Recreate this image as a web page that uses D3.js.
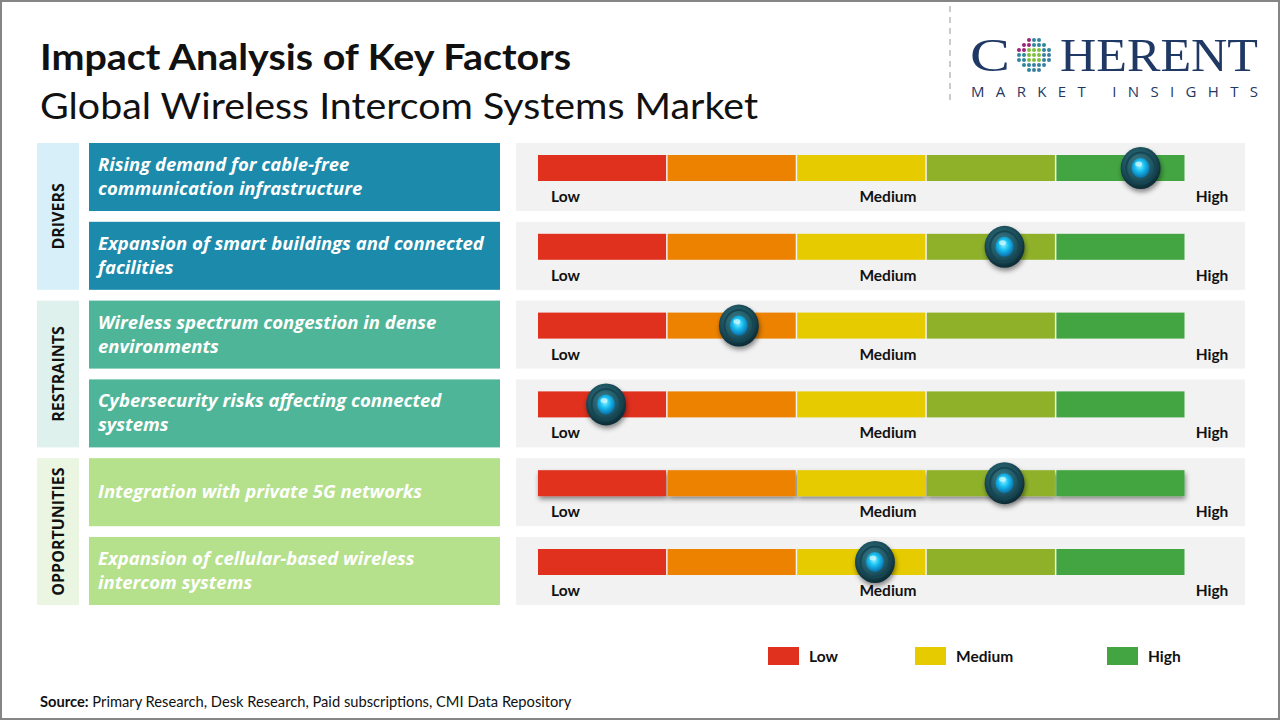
<!DOCTYPE html>
<html><head><meta charset="utf-8">
<script src="https://cdn.jsdelivr.net/npm/d3@7"></script>
<style>body{margin:0;background:#fff}svg{display:block}</style>
</head><body>
<svg id="c" width="1280" height="720"></svg>
<script>
const groups = ["DRIVERS","RESTRAINTS","OPPORTUNITIES"];
const factors = [
  "Rising demand for cable-free|communication infrastructure",
  "Expansion of smart buildings and connected|facilities",
  "Wireless spectrum congestion in dense|environments",
  "Cybersecurity risks affecting connected|systems",
  "Integration with private 5G networks",
  "Expansion of cellular-based wireless|intercom systems"
];
const factorGroup = ["DRIVERS","DRIVERS","RESTRAINTS","RESTRAINTS","OPPORTUNITIES","OPPORTUNITIES"];
const impact = [93, 72, 31, 10.5, 72, 52];
const levels = ["L1","L2","L3","L4","L5"];
const scaleLabels = ["Low","Medium","High"];
const legendItems = ["Low","Medium","High"];

const svg = d3.select("#c");
const font = "'Open Sans', sans-serif";
const titleFont = "Lato, sans-serif";

svg.append("rect").attr("x",1).attr("y",1).attr("width",1278).attr("height",718)
  .attr("fill","#fff").attr("stroke","#858585").attr("stroke-width",2);

// defs
const defs = svg.append("defs");
const knobG = defs.append("radialGradient").attr("id","knobOuter").attr("cx","45%").attr("cy","40%").attr("r","60%");
knobG.append("stop").attr("offset","0%").attr("stop-color","#3d7f8c");
knobG.append("stop").attr("offset","60%").attr("stop-color","#1f5562");
knobG.append("stop").attr("offset","100%").attr("stop-color","#0b2a33");
const coreG = defs.append("radialGradient").attr("id","knobCore").attr("cx","45%").attr("cy","40%").attr("r","60%");
coreG.append("stop").attr("offset","0%").attr("stop-color","#8ff0ff");
coreG.append("stop").attr("offset","45%").attr("stop-color","#19c0f2");
coreG.append("stop").attr("offset","100%").attr("stop-color","#0a6fa8");
const sh = defs.append("filter").attr("id","shadow").attr("x","-50%").attr("y","-50%").attr("width","200%").attr("height","200%");
sh.append("feDropShadow").attr("dx",1).attr("dy",3).attr("stdDeviation",2.5).attr("flood-color","#000").attr("flood-opacity",0.45);

// Titles
svg.append("text").attr("x",40).attr("y",70).attr("font-family",titleFont).attr("font-weight","bold")
  .attr("font-size",37).attr("fill","#111").attr("textLength",531).attr("lengthAdjust","spacingAndGlyphs")
  .text("Impact Analysis of Key Factors");
svg.append("text").attr("x",40).attr("y",119).attr("font-family",titleFont)
  .attr("font-size",37).attr("fill","#111").attr("textLength",718).attr("lengthAdjust","spacingAndGlyphs")
  .text("Global Wireless Intercom Systems Market");

// Logo
svg.append("line").attr("x1",950).attr("x2",950).attr("y1",6).attr("y2",100)
  .attr("stroke","#bbb").attr("stroke-width",1.5).attr("stroke-dasharray","6,5");
svg.append("text").attr("x",970).attr("y",71).attr("font-family","'Liberation Serif', serif")
  .attr("font-size",47).attr("fill","#1f3864").attr("textLength",40).attr("lengthAdjust","spacingAndGlyphs").text("C");
svg.append("text").attr("x",1060).attr("y",71).attr("font-family","'Liberation Serif', serif")
  .attr("font-size",47).attr("fill","#1f3864").attr("textLength",198).attr("lengthAdjust","spacingAndGlyphs").text("HERENT");
const logoDots = [];
for (let r=-3;r<=3;r++) for (let c=-3;c<=3;c++){ if (r*r+c*c<=10) logoDots.push([r,c]); }
svg.append("g").selectAll("circle").data(logoDots).join("circle")
  .attr("cx",d=>1034+d[1]*5).attr("cy",d=>55+d[0]*5).attr("r",2)
  .attr("fill",d=> (Math.abs(d[0])<=1 && Math.abs(d[1])<=1) ? "#7fbf3f" : (d[0]<0 ? (d[1]<0?"#a0207a":"#2e86a0") : (d[1]<0?"#2e86a0":"#3a7fa0")));
svg.append("text").attr("x",971).attr("y",97).attr("font-family","'Open Sans', sans-serif")
  .attr("font-size",15).attr("fill","#1f3864").attr("textLength",287).attr("lengthAdjust","spacing")
  .text("MARKET INSIGHTS");

// Row scale
const y = d3.scaleBand().domain(d3.range(factors.length)).range([143,605]).paddingInner(0.137);
const bh = y.bandwidth();
const groupColor = {DRIVERS:"#1b8aab", RESTRAINTS:"#4fb598", OPPORTUNITIES:"#b5e08c"};
const groupBg = {DRIVERS:"#d6eff9", RESTRAINTS:"#dff1ec", OPPORTUNITIES:"#eaf6e2"};

// Group side boxes
groups.forEach(g=>{
  const idx = factors.map((_,i)=>i).filter(i=>factorGroup[i]===g);
  const y0 = y(idx[0]), y1 = y(idx[idx.length-1])+bh;
  svg.append("rect").attr("x",37).attr("y",y0).attr("width",42).attr("height",y1-y0).attr("fill",groupBg[g]);
  svg.append("text").attr("transform",`translate(64,${(y0+y1)/2}) rotate(-90)`).attr("text-anchor","middle")
    .attr("font-family",font).attr("font-weight","bold").attr("font-size",16).attr("fill","#111").text(g);
});

// Factor boxes
const rows = svg.append("g").selectAll("g").data(factors).join("g").attr("transform",(d,i)=>`translate(0,${y(i)})`);
rows.append("rect").attr("x",89).attr("width",411).attr("height",bh).attr("fill",(d,i)=>groupColor[factorGroup[i]]);
rows.each(function(d,i){
  const lines = d.split("|");
  const t = d3.select(this).append("text").attr("font-family",font).attr("font-weight","bold").attr("font-style","italic")
    .attr("font-size",18.5).attr("fill","#fff");
  const start = lines.length===1 ? 40 : 28;
  lines.forEach((l,k)=> t.append("tspan").attr("x",98).attr("y",start+k*24).text(l));
});

// Impact panels
const x = d3.scaleLinear().domain([0,100]).range([538,1186]);
const seg = d3.scaleBand().domain(levels).range([538,1186]);
const segColor = d3.scaleOrdinal().domain(levels).range(["#e0301e","#ec8200","#e5cb00","#8fb12a","#43a541"]);
rows.append("rect").attr("x",516).attr("width",729).attr("height",bh).attr("fill","#f2f2f2");
rows.each(function(d,i){
  const g = d3.select(this);
  const bar = g.append("g").attr("filter", i===4 ? "url(#shadow)" : null);
  bar.selectAll("rect").data(levels).join("rect")
    .attr("x",l=>seg(l)).attr("y",12).attr("width",seg.bandwidth()-1.5).attr("height",26).attr("fill",l=>segColor(l));
  const lx = [551, 888, 1212];
  const la = ["start","middle","middle"];
  scaleLabels.forEach((s,k)=> g.append("text").attr("x",lx[k]).attr("y",59).attr("text-anchor",la[k])
    .attr("font-family",titleFont).attr("font-weight","bold").attr("font-size",15.5).attr("fill","#111").text(s));
  const kx = x(impact[i]);
  const kn = g.append("g").attr("transform",`translate(${kx},25)`);
  kn.append("ellipse").attr("rx",20).attr("ry",21).attr("fill","url(#knobOuter)").attr("filter","url(#shadow)");
  kn.append("ellipse").attr("rx",14.5).attr("ry",15.5).attr("fill","none").attr("stroke","#164652").attr("stroke-width",2);
  kn.append("ellipse").attr("rx",9).attr("ry",10).attr("fill","url(#knobCore)");
  kn.append("ellipse").attr("cx",-2).attr("cy",-4).attr("rx",3.5).attr("ry",2.5).attr("fill","#d8fbff").attr("opacity",0.7);
});

// Legend
const lgx = d3.scaleOrdinal().domain(legendItems).range([768,915,1107]);
const lgc = d3.scaleOrdinal().domain(legendItems).range(["#e0301e","#e5cb00","#43a541"]);
const lg = svg.append("g").selectAll("g").data(legendItems).join("g").attr("transform",d=>`translate(${lgx(d)},647)`);
lg.append("rect").attr("width",31).attr("height",18).attr("fill",d=>lgc(d));
lg.append("text").attr("x",41).attr("y",14.5).attr("font-family",titleFont).attr("font-weight","bold")
  .attr("font-size",15.5).attr("fill","#111").text(d=>d);

// Source
const src = svg.append("text").attr("x",40).attr("y",707).attr("font-family",titleFont).attr("font-size",14.7).attr("fill","#111");
src.append("tspan").attr("font-weight","bold").text("Source:");
src.append("tspan").text(" Primary Research, Desk Research, Paid subscriptions, CMI Data Repository");
</script>
</body></html>
